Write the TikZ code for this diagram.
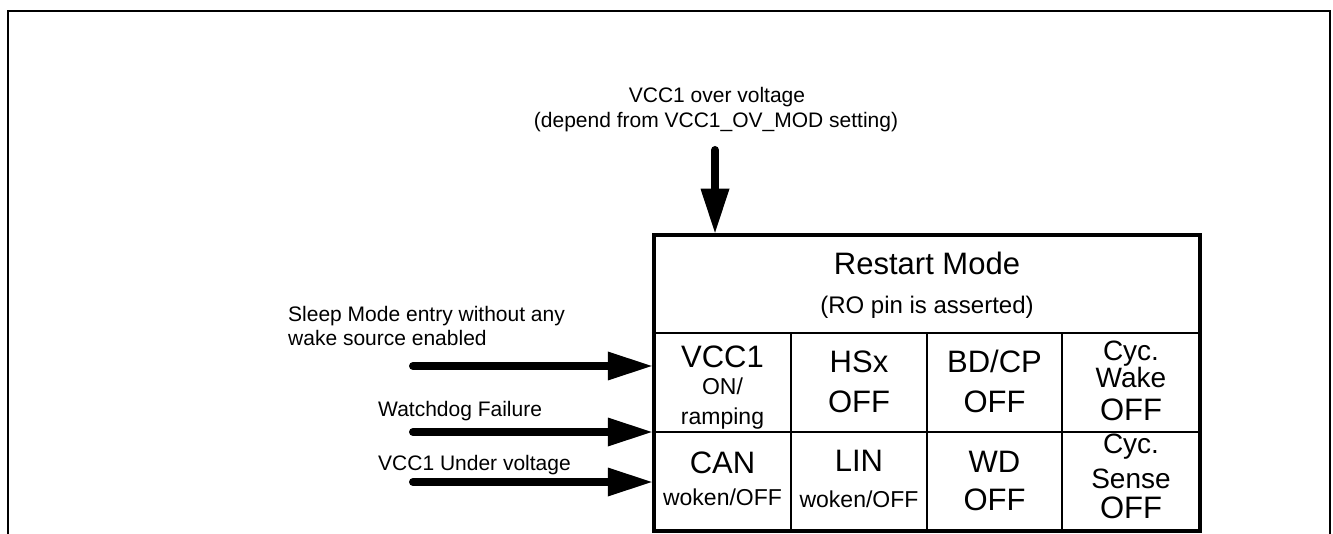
\documentclass[tikz,border=0pt]{standalone}
\usepackage{fontspec}
\setmainfont{Liberation Sans}
\usetikzlibrary{arrows.meta}
\begin{document}
\begin{tikzpicture}[x=1pt,y=-1pt,
  fs/.style={font=\fontsize{#1}{#1}\selectfont},
  txt/.style={inner sep=0pt, anchor=base},
  lbl/.style={inner sep=0pt, anchor=base west, fs=21},
  bigarrow/.style={line width=8pt, line cap=round,
    -{Triangle[length=44pt,width=29pt,line width=0pt]}},
  inner/.style={line width=2.5pt},
  modebox/.style={draw, line width=4.5pt, rectangle, inner sep=0pt,
    minimum width=546pt, minimum height=296pt}]
\useasboundingbox (0,0) rectangle (1333,534);
% outer frame
\draw[line width=2pt] (8,534) -- (8,11) -- (1330,11) -- (1330,534);

% main box
\node[modebox] (box) at (927,383) {};
\coordinate (h1) at (654,333);
\coordinate (h2) at (1200,333);
\coordinate (r1) at (654,432);
\coordinate (r2) at (1200,432);
\draw[inner] (h1 -| box.west) -- (h2 -| box.east);
\draw[inner] (r1 -| box.west) -- (r2 -| box.east);
\coordinate (c1) at (791,333);
\coordinate (c2) at (927,333);
\coordinate (c3) at (1062,333);
\draw[inner] (c1) -- (c1 |- box.south);
\draw[inner] (c2) -- (c2 |- box.south);
\draw[inner] (c3) -- (c3 |- box.south);

% header
\node[txt, fs=31] (title) at (927,275) {Restart Mode};
\node[txt, fs=24] (sub) at (927,314) {(RO pin is asserted)};

% row 1
\node[txt, fs=31] (a1) at (722.5,368) {VCC1};
\node[txt, fs=23] (a2) at (722.5,395) {ON/};
\node[txt, fs=23] (a3) at (722.5,424) {ramping};
\node[txt, fs=31] (b1) at (859,373) {HSx};
\node[txt, fs=31] (b2) at (859,412) {OFF};
\node[txt, fs=31] (d1) at (994.5,373) {BD/CP};
\node[txt, fs=31] (d2) at (994.5,412) {OFF};
\node[txt, fs=28] (e1) at (1131,361) {Cyc.};
\node[txt, fs=28] (e2) at (1131,388) {Wake};
\node[txt, fs=31] (e3) at (1131,420) {OFF};
% row 2
\node[txt, fs=31] (f1) at (722.5,473) {CAN};
\node[txt, fs=23] (f2) at (722.5,505) {woken/OFF};
\node[txt, fs=31] (g1) at (859,471) {LIN};
\node[txt, fs=23] (g2) at (859,507) {woken/OFF};
\node[txt, fs=31] (k1) at (994.5,472) {WD};
\node[txt, fs=31] (k2) at (994.5,510) {OFF};
\node[txt, fs=28] (m1) at (1131,453) {Cyc.};
\node[txt, fs=28] (m2) at (1131,488) {Sense};
\node[txt, fs=31] (m3) at (1131,518) {OFF};

% top input
\node[txt, fs=21] (top1) at (717,103) {VCC1 over voltage};
\node[txt, fs=21] (top2) at (716,128) {(depend from VCC1\_OV\_MOD setting)};
\coordinate (t0) at (715,150);
\draw[bigarrow] (t0) -- (t0 |- box.north);

% left inputs
\node[lbl] (l1a) at (288,322) {Sleep Mode entry without any};
\node[lbl] (l1b) at (288,346) {wake source enabled};
\node[lbl] (l2) at (378,417) {Watchdog Failure};
\node[lbl] (l3) at (378,470) {VCC1 Under voltage};
\coordinate (s1) at (413,366);
\coordinate (s2) at (413,432);
\coordinate (s3) at (413,482);
\draw[bigarrow] (s1) -- (s1 -| box.west);
\draw[bigarrow] (s2) -- (s2 -| box.west);
\draw[bigarrow] (s3) -- (s3 -| box.west);
\end{tikzpicture}
\end{document}
